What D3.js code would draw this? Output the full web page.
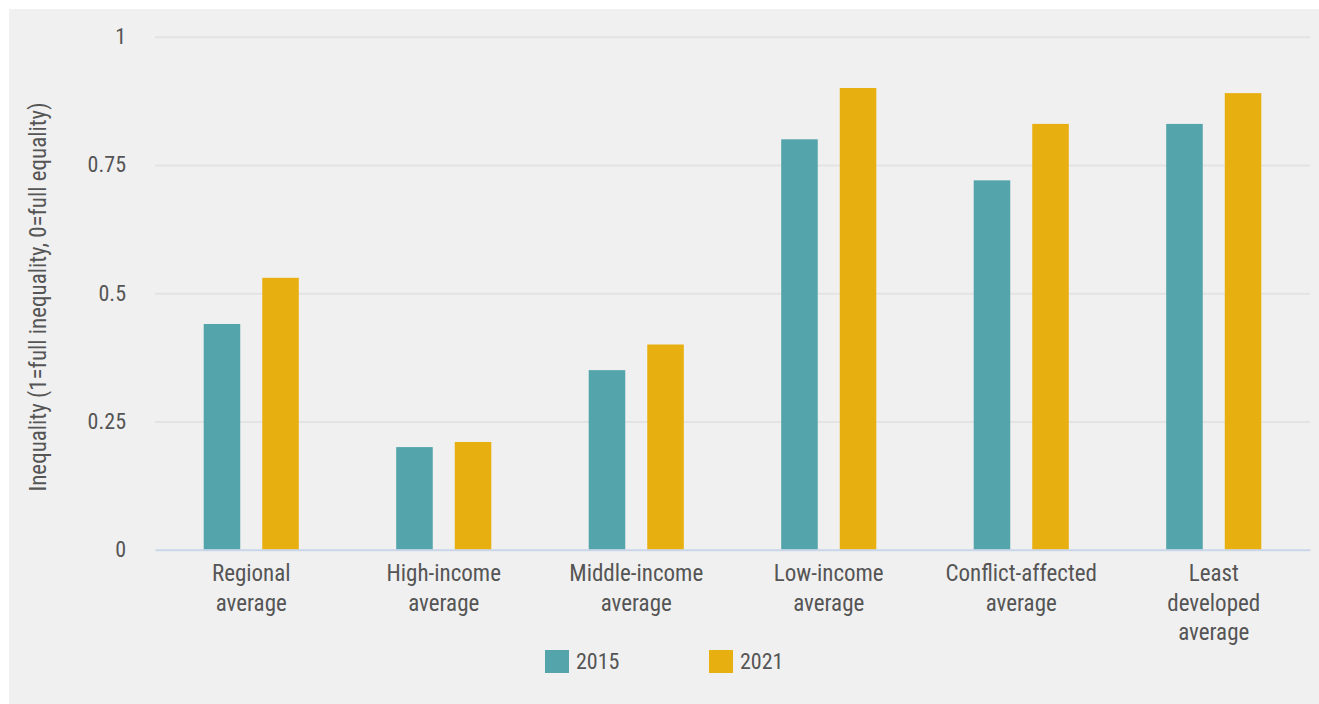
<!DOCTYPE html>
<html><head><meta charset="utf-8">
<script src="https://cdn.jsdelivr.net/npm/d3@7"></script>
<style>
html,body{margin:0;padding:0;background:#fff;}
svg text{font-family:"Liberation Sans Narrow","Roboto Condensed","Roboto",sans-serif;fill:#555;}
</style></head>
<body>
<svg id="chart" width="1319" height="704"></svg>
<script>
const categories = ["Regional\naverage","High-income\naverage","Middle-income\naverage","Low-income\naverage","Conflict-affected\naverage","Least\ndeveloped\naverage"];
const series = ["2015","2021"];
const values2015 = [0.44,0.20,0.35,0.80,0.72,0.83];
const values2021 = [0.53,0.21,0.40,0.90,0.83,0.89];
const yTicks = [0,0.25,0.5,0.75,1];
const yTickLabels = ["0","0.25","0.5","0.75","1"];
const colors = ["#53a4ab","#e8af10"];
const yTitle = "Inequality (1=full inequality, 0=full equality)";

const svg = d3.select("#chart");
svg.append("rect").attr("x",9).attr("y",9).attr("width",1310).attr("height",695).attr("fill","#f0f0f0");

const pLeft=155,pRight=1310,pTop=36.7,pBottom=549.7;
const x0 = d3.scaleBand().domain(categories).range([pLeft,pRight]).paddingInner(0.506).paddingOuter(0.253);
const x1 = d3.scaleBand().domain(series).range([0,x0.bandwidth()]).paddingInner(0.376).paddingOuter(0);
const y = d3.scaleLinear().domain([0,1]).range([pBottom,pTop]);
const color = d3.scaleOrdinal().domain(series).range(colors);

// gridlines
const grid = svg.append("g").attr("transform",`translate(${pLeft},0)`)
  .call(d3.axisLeft(y).tickValues(yTicks).tickSize(-(pRight-pLeft)).tickFormat(""));
grid.select(".domain").remove();
grid.selectAll("line").attr("stroke","#e3e3e3").attr("stroke-width",2);
grid.selectAll(".tick").filter(d=>d===0).remove();

// y tick labels
const yAxis = svg.append("g").attr("transform",`translate(${pLeft},0)`)
  .call(d3.axisLeft(y).tickValues(yTicks).tickSize(0).tickPadding(29).tickFormat((d,i)=>yTickLabels[i]));
yAxis.select(".domain").remove();
yAxis.selectAll("text").attr("font-size",22).style("font-family",'"Liberation Sans Narrow","Roboto Condensed","Roboto",sans-serif').attr("fill","#555");

// bars
const data = categories.map((c,i)=>({cat:c, vals:[{s:"2015",v:values2015[i]},{s:"2021",v:values2021[i]}]}));
const groups = svg.append("g").selectAll("g").data(data).join("g")
  .attr("transform",d=>`translate(${x0(d.cat)},0)`);
groups.selectAll("rect").data(d=>d.vals).join("rect")
  .attr("x",d=>x1(d.s)).attr("width",x1.bandwidth())
  .attr("y",d=>y(d.v)).attr("height",d=>y(0)-y(d.v))
  .attr("fill",d=>color(d.s));

// baseline
const xAxis = svg.append("g").attr("transform",`translate(0,${pBottom})`)
  .call(d3.axisBottom(x0).tickSize(0).tickFormat(""));
xAxis.select(".domain").attr("stroke","#c9d6ea").attr("stroke-width",2);

// category labels
const labels = svg.append("g");
categories.forEach(c=>{
  const lines = c.split("\n");
  const t = labels.append("text").attr("text-anchor","middle").attr("font-size",23)
    .attr("x",x0(c)+x0.bandwidth()/2).attr("y",581);
  lines.forEach((ln,i)=>t.append("tspan").attr("x",x0(c)+x0.bandwidth()/2).attr("dy",i===0?0:29.5).text(ln));
});

// y title
svg.append("text").attr("transform","translate(46,297) rotate(-90)")
  .attr("text-anchor","middle").attr("font-size",23).text(yTitle);

// legend
const legendX = [545,709];
series.forEach((s,i)=>{
  svg.append("rect").attr("x",legendX[i]).attr("y",650).attr("width",24).attr("height",23).attr("fill",color(s));
  svg.append("text").attr("x",legendX[i]+31).attr("y",669).attr("font-size",22).text(s);
});
</script>
</body></html>
